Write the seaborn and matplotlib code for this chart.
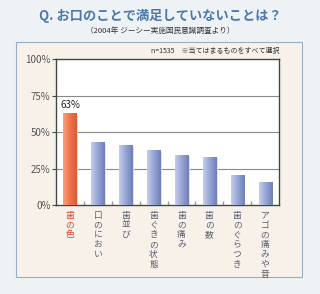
import numpy as np
import matplotlib
matplotlib.use("Agg")
import matplotlib.pyplot as plt
import seaborn as sns
from matplotlib.patches import Rectangle
from matplotlib.colors import LinearSegmentedColormap

# data
labels = ["歯の色", "口のにおい", "歯並び", "歯ぐきの状態", "歯の痛み", "歯の数", "歯のぐらつき", "アゴの痛みや音"]
values = [63, 43, 41, 37.5, 34, 33, 20.5, 16]
yticks = [0, 25, 50, 75, 100]

sns.set_theme(style="white")
plt.rcParams['font.family'] = ['Noto Sans CJK JP', 'DejaVu Sans']

fig = plt.figure(figsize=(3.2, 2.94), dpi=100)
fig.patch.set_facecolor("#eef2f4")

# cream panel behind the chart
panel = Rectangle((0.05, 0.058), 0.894, 0.799, transform=fig.transFigure,
                  facecolor="#f7f1e9", edgecolor="#9aaec0", linewidth=0.8, zorder=-5)
fig.add_artist(panel)

ax = fig.add_axes([0.175, 0.3027, 0.697, 0.4966])
colors = ["#ef7b55"] + ["#8d9dcc"] * (len(labels) - 1)
x = np.arange(len(labels))
sns.barplot(x=x, y=values, hue=x, palette=colors, legend=False, width=0.47,
            ax=ax, zorder=3, saturation=1)

# gradient shading on the bars (light left edge -> darker right edge)
orange_cm = LinearSegmentedColormap.from_list("o", ["#f9a27a", "#f0734c", "#dc5a38"])
blue_cm = LinearSegmentedColormap.from_list("b", ["#c4cdea", "#95a3d2", "#6f7fb8"])
grad = np.linspace(0, 1, 64).reshape(1, -1)
for i, p in enumerate(ax.patches):
    x0, y0, w, h = p.get_x(), p.get_y(), p.get_width(), p.get_height()
    # soft shadow to the right
    ax.add_patch(Rectangle((x0 + w, 0), 0.06, h * 0.97, facecolor="#d8d8d8",
                           edgecolor="none", zorder=2))
    im = ax.imshow(grad, extent=[x0, x0 + w, y0, y0 + h], aspect="auto",
                   cmap=orange_cm if i == 0 else blue_cm, zorder=4)
    im.set_clip_path(p)

ax.set_ylim(0, 100)
ax.set_xlim(-0.5, len(labels) - 0.5)
ax.set_yticks(yticks)
ax.set_yticklabels([f"{v}%" for v in yticks], fontsize=7, color="#555555")
for v in yticks[1:-1]:
    ax.axhline(v, color="#8a8a8a", linewidth=0.8, zorder=1)

ax.set_xticks(x)
ax.set_xticklabels(["\n".join(l) for l in labels], fontsize=6.3, color="#5a6070",
                   linespacing=1.12, va="top")
ax.get_xticklabels()[0].set_color("#e8402a")
ax.tick_params(axis="x", length=0, pad=4)
ax.tick_params(axis="y", length=3, width=0.8, color="#3d4a3d", pad=1, left=True)
ax.set_xticks(np.arange(len(labels) - 1) + 0.5, minor=True)
ax.tick_params(axis="x", which="minor", direction="in", length=3, color="#999999", bottom=True)

for s in ax.spines.values():
    s.set_color("#3d4a3d")
    s.set_linewidth(1.0)
ax.set_facecolor("white")
ax.set_xlabel("")
ax.set_ylabel("")

ax.text(0, values[0] + 2, "63%", ha="center", va="bottom", fontsize=7, color="#222222")

fig.text(0.5, 0.945, "Q. お口のことで満足していないことは？", ha="center", va="center",
         fontsize=9.5, fontweight="bold", color="#4a78ad")
fig.text(0.5, 0.895, "（2004年 ジーシー実施国民意識調査より）", ha="center", va="center",
         fontsize=5.5, color="#333333")
fig.text(0.872, 0.828, "n=1535　※当てはまるものをすべて選択", ha="right", va="center",
         fontsize=5, color="#333333")

fig.savefig("out.png", dpi=100, facecolor=fig.get_facecolor())
